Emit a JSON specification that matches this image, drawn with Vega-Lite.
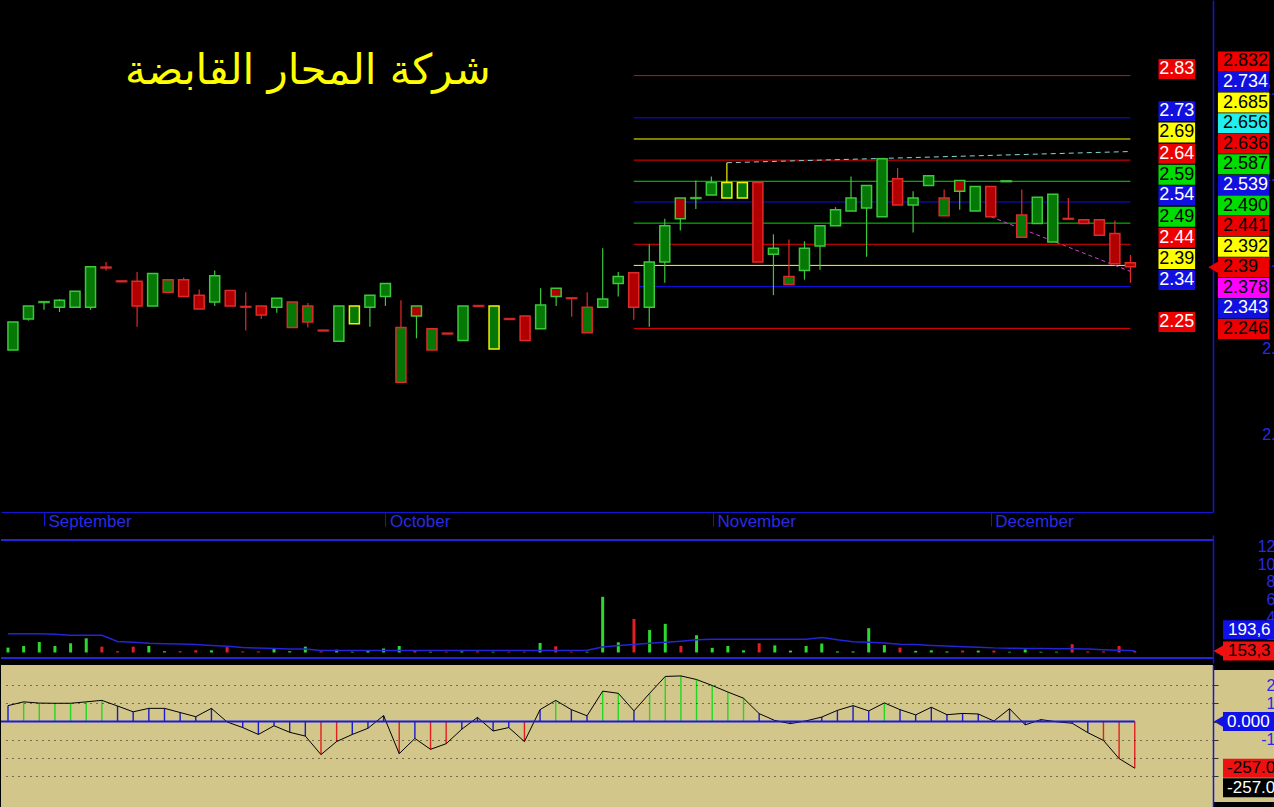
{
"$schema":"https://vega.github.io/schema/vega-lite/v6.json",
"background":"black",
"padding":0,
"spacing":2,
"config":{"view":{"stroke":null},"axis":{"labelFont":"Liberation Sans","labelFontSize":16,"labelColor":"#2a2ae6","domainColor":"#1515d5","tickColor":"#1515d5","grid":false,"labelOverlap":false}},
"datasets":{
"bars":[
{"i":1,"o":2.196,"h":2.261,"l":2.196,"c":2.261,"v":0.55,"ma":2.12,"osc":88},
{"i":2,"o":2.268,"h":2.298,"l":2.264,"c":2.298,"v":0.73,"ma":2.12,"osc":109},
{"i":3,"o":2.307,"h":2.307,"l":2.289,"c":2.307,"v":1.18,"ma":2.12,"osc":102},
{"i":4,"o":2.295,"h":2.314,"l":2.284,"c":2.311,"v":0.73,"ma":2.05,"osc":101},
{"i":5,"o":2.295,"h":2.332,"l":2.295,"c":2.332,"v":1.04,"ma":1.95,"osc":101},
{"i":6,"o":2.295,"h":2.389,"l":2.289,"c":2.389,"v":1.6,"ma":1.95,"osc":109},
{"i":7,"o":2.387,"h":2.4,"l":2.38,"c":2.387,"v":0.66,"ma":1.95,"osc":117},
{"i":8,"o":2.355,"h":2.355,"l":2.355,"c":2.355,"v":0.14,"ma":1.25,"osc":86},
{"i":9,"o":2.355,"h":2.377,"l":2.25,"c":2.298,"v":0.66,"ma":1.15,"osc":54},
{"i":10,"o":2.298,"h":2.373,"l":2.298,"c":2.373,"v":0.73,"ma":1.05,"osc":73},
{"i":11,"o":2.33,"h":2.359,"l":2.33,"c":2.359,"v":0.14,"ma":1.0,"osc":73},
{"i":12,"o":2.359,"h":2.364,"l":2.32,"c":2.32,"v":0.14,"ma":0.95,"osc":50},
{"i":13,"o":2.323,"h":2.336,"l":2.291,"c":2.291,"v":0.24,"ma":0.9,"osc":27},
{"i":14,"o":2.307,"h":2.38,"l":2.298,"c":2.368,"v":0.24,"ma":0.8,"osc":73},
{"i":15,"o":2.334,"h":2.334,"l":2.298,"c":2.298,"v":0.6,"ma":0.7,"osc":-2},
{"i":16,"o":2.296,"h":2.33,"l":2.241,"c":2.296,"v":0.12,"ma":0.55,"osc":-33},
{"i":17,"o":2.298,"h":2.298,"l":2.268,"c":2.277,"v":0.12,"ma":0.5,"osc":-71},
{"i":18,"o":2.295,"h":2.316,"l":2.282,"c":2.316,"v":0.39,"ma":0.45,"osc":-23},
{"i":19,"o":2.248,"h":2.307,"l":2.248,"c":2.307,"v":0.14,"ma":0.4,"osc":-59},
{"i":20,"o":2.261,"h":2.305,"l":2.248,"c":2.298,"v":0.66,"ma":0.38,"osc":-80},
{"i":21,"o":2.241,"h":2.241,"l":2.241,"c":2.241,"v":0.12,"ma":0.21,"osc":-182},
{"i":22,"o":2.216,"h":2.298,"l":2.216,"c":2.298,"v":0.31,"ma":0.21,"osc":-110},
{"i":23,"o":2.257,"h":2.298,"l":2.257,"c":2.298,"v":0.08,"ma":0.21,"osc":-71},
{"i":24,"o":2.295,"h":2.323,"l":2.25,"c":2.323,"v":0.21,"ma":0.21,"osc":-37},
{"i":25,"o":2.32,"h":2.35,"l":2.298,"c":2.35,"v":0.45,"ma":0.21,"osc":33},
{"i":26,"o":2.121,"h":2.311,"l":2.121,"c":2.248,"v":0.73,"ma":0.21,"osc":-177},
{"i":27,"o":2.298,"h":2.298,"l":2.223,"c":2.275,"v":0.28,"ma":0.21,"osc":-93},
{"i":28,"o":2.196,"h":2.245,"l":2.196,"c":2.245,"v":0.08,"ma":0.21,"osc":-153},
{"i":29,"o":2.234,"h":2.234,"l":2.234,"c":2.234,"v":0.08,"ma":0.21,"osc":-122},
{"i":30,"o":2.218,"h":2.298,"l":2.218,"c":2.298,"v":0.12,"ma":0.21,"osc":-42},
{"i":31,"o":2.298,"h":2.298,"l":2.298,"c":2.298,"v":0.12,"ma":0.21,"osc":23},
{"i":32,"o":2.198,"h":2.298,"l":2.198,"c":2.298,"v":0.08,"ma":0.21,"osc":-52},
{"i":33,"o":2.268,"h":2.268,"l":2.268,"c":2.268,"v":0.08,"ma":0.21,"osc":-33},
{"i":34,"o":2.275,"h":2.275,"l":2.218,"c":2.218,"v":0.08,"ma":0.21,"osc":-110},
{"i":35,"o":2.245,"h":2.339,"l":2.245,"c":2.3,"v":1.08,"ma":0.21,"osc":66},
{"i":36,"o":2.339,"h":2.339,"l":2.298,"c":2.32,"v":0.7,"ma":0.21,"osc":117},
{"i":37,"o":2.316,"h":2.316,"l":2.273,"c":2.316,"v":0.08,"ma":0.21,"osc":66},
{"i":38,"o":2.236,"h":2.33,"l":2.236,"c":2.295,"v":0.08,"ma":0.25,"osc":32},
{"i":39,"o":2.295,"h":2.432,"l":2.295,"c":2.314,"v":6.3,"ma":0.63,"osc":168},
{"i":40,"o":2.35,"h":2.377,"l":2.32,"c":2.366,"v":1.15,"ma":0.8,"osc":156},
{"i":41,"o":2.375,"h":2.375,"l":2.266,"c":2.295,"v":3.79,"ma":0.9,"osc":59},
{"i":42,"o":2.295,"h":2.441,"l":2.25,"c":2.4,"v":2.54,"ma":1.04,"osc":156},
{"i":43,"o":2.4,"h":2.5,"l":2.352,"c":2.484,"v":3.24,"ma":1.15,"osc":249},
{"i":44,"o":2.548,"h":2.548,"l":2.473,"c":2.5,"v":0.73,"ma":1.28,"osc":252},
{"i":45,"o":2.548,"h":2.589,"l":2.523,"c":2.548,"v":1.95,"ma":1.43,"osc":232},
{"i":46,"o":2.555,"h":2.598,"l":2.555,"c":2.584,"v":0.52,"ma":1.51,"osc":199},
{"i":47,"o":2.548,"h":2.63,"l":2.548,"c":2.584,"v":0.73,"ma":1.51,"osc":163},
{"i":48,"o":2.548,"h":2.584,"l":2.548,"c":2.584,"v":0.24,"ma":1.51,"osc":129},
{"i":49,"o":2.584,"h":2.584,"l":2.4,"c":2.4,"v":1.04,"ma":1.51,"osc":44},
{"i":50,"o":2.418,"h":2.464,"l":2.323,"c":2.432,"v":0.8,"ma":1.51,"osc":6},
{"i":51,"o":2.348,"h":2.452,"l":2.348,"c":2.366,"v":0.21,"ma":1.51,"osc":-11},
{"i":52,"o":2.38,"h":2.448,"l":2.359,"c":2.432,"v":0.73,"ma":1.51,"osc":4},
{"i":53,"o":2.437,"h":2.484,"l":2.382,"c":2.484,"v":1.01,"ma":1.7,"osc":25},
{"i":54,"o":2.484,"h":2.527,"l":2.484,"c":2.521,"v":0.12,"ma":1.43,"osc":62},
{"i":55,"o":2.518,"h":2.598,"l":2.518,"c":2.548,"v":0.12,"ma":1.22,"osc":88},
{"i":56,"o":2.525,"h":2.577,"l":2.412,"c":2.577,"v":2.75,"ma":1.15,"osc":59},
{"i":57,"o":2.505,"h":2.639,"l":2.505,"c":2.639,"v":0.83,"ma":1.08,"osc":103},
{"i":58,"o":2.593,"h":2.618,"l":2.532,"c":2.532,"v":0.55,"ma":0.94,"osc":66},
{"i":59,"o":2.532,"h":2.564,"l":2.468,"c":2.548,"v":0.18,"ma":0.9,"osc":37},
{"i":60,"o":2.577,"h":2.6,"l":2.577,"c":2.6,"v":0.24,"ma":0.8,"osc":79},
{"i":61,"o":2.507,"h":2.568,"l":2.507,"c":2.548,"v":0.12,"ma":0.73,"osc":38},
{"i":62,"o":2.589,"h":2.589,"l":2.521,"c":2.564,"v":0.21,"ma":0.66,"osc":45},
{"i":63,"o":2.518,"h":2.575,"l":2.518,"c":2.575,"v":0.21,"ma":0.59,"osc":42},
{"i":64,"o":2.575,"h":2.575,"l":2.505,"c":2.505,"v":0.21,"ma":0.52,"osc":3},
{"i":65,"o":2.587,"h":2.587,"l":2.587,"c":2.587,"v":0.08,"ma":0.49,"osc":71},
{"i":66,"o":2.457,"h":2.568,"l":2.457,"c":2.509,"v":0.34,"ma":0.45,"osc":-18},
{"i":67,"o":2.489,"h":2.55,"l":2.489,"c":2.55,"v":0.08,"ma":0.45,"osc":11},
{"i":68,"o":2.446,"h":2.557,"l":2.446,"c":2.557,"v":0.08,"ma":0.42,"osc":-1},
{"i":69,"o":2.5,"h":2.548,"l":2.5,"c":2.5,"v":0.94,"ma":0.42,"osc":-9},
{"i":70,"o":2.498,"h":2.498,"l":2.489,"c":2.489,"v":0.12,"ma":0.38,"osc":-61},
{"i":71,"o":2.498,"h":2.498,"l":2.462,"c":2.462,"v":0.12,"ma":0.31,"osc":-104},
{"i":72,"o":2.466,"h":2.496,"l":2.396,"c":2.396,"v":0.73,"ma":0.24,"osc":-204},
{"i":73,"o":2.398,"h":2.416,"l":2.352,"c":2.389,"v":0.153,"ma":0.194,"osc":-257}
],
"levels":[
{"lv":"2.832","p":2.832,"lbl":"2.83"},
{"lv":"2.734","p":2.734,"lbl":"2.73"},
{"lv":"2.685","p":2.685,"lbl":"2.69"},
{"lv":"2.636","p":2.636,"lbl":"2.64"},
{"lv":"2.587","p":2.587,"lbl":"2.59"},
{"lv":"2.539","p":2.539,"lbl":"2.54"},
{"lv":"2.490","p":2.49,"lbl":"2.49"},
{"lv":"2.441","p":2.441,"lbl":"2.44"},
{"lv":"2.392","p":2.392,"lbl":"2.39"},
{"lv":"2.343","p":2.343,"lbl":"2.34"},
{"lv":"2.246","p":2.246,"lbl":"2.25"}
],
"tags":[
{"txt":"2.832","slot":0},{"txt":"2.734","slot":1},{"txt":"2.685","slot":2},{"txt":"2.656","slot":3},
{"txt":"2.636","slot":4},{"txt":"2.587","slot":5},{"txt":"2.539","slot":6},{"txt":"2.490","slot":7},
{"txt":"2.441","slot":8},{"txt":"2.392","slot":9},{"txt":"2.39","slot":10},{"txt":"2.378","slot":11},
{"txt":"2.343","slot":12},{"txt":"2.246","slot":13}
],
"trends":[
{"t":"up","i":47,"p":2.63},{"t":"up","i":73,"p":2.656},
{"t":"dn","i":64,"p":2.505},{"t":"dn","i":73,"p":2.378}
],
"voltags":[{"txt":"193,6","v":0.194,"k":"ma"},{"txt":"153,3","v":0.153,"k":"vol"}],
"osctags":[{"txt":"0.000","v":0,"k":"zero"},{"txt":"-257.0","v":-257,"k":"osc"},{"txt":"-257.0","v":-257,"k":"sig"}]
},
"resolve":{"scale":{"x":"independent","y":"independent","color":"independent"}},
"vconcat":[
{
"width":1212,"height":512,
"layer":[
{"layer":[
 {"data":{"name":"levels"},"layer":[
  {"mark":{"type":"rule","strokeWidth":1},"encoding":{
   "x":{"datum":41,"type":"quantitative","scale":{"domain":[0.553,78.0],"nice":false,"zero":false}},"x2":{"datum":73},
   "y":{"field":"p","type":"quantitative","scale":{"domain":[1.832,2.9956],"nice":false,"zero":false}},
   "color":{"field":"lv","type":"nominal","legend":null,"scale":{"domain":["2.832","2.734","2.685","2.656","2.636","2.587","2.539","2.490","2.441","2.392","2.39","2.378","2.343","2.246"],"range":["#ee0000","#1010e0","#ffff00","#22eeee","#ee0000","#00dd00","#1010e0","#00dd00","#ee0000","#ffff00","#ee0000","#ff00ff","#1010e0","#ee0000"]}}}},
  {"mark":{"type":"bar","size":20,"yOffset":-6.5},"encoding":{
   "x":{"datum":74.81},"x2":{"datum":77.17},
   "y":{"field":"p","type":"quantitative"},
   "color":{"field":"lv","type":"nominal","legend":null}}},
  {"mark":{"type":"text","align":"center","baseline":"middle","font":"Liberation Sans","fontSize":18,"yOffset":-6.5},"encoding":{
   "x":{"datum":75.99},"y":{"field":"p","type":"quantitative"},"text":{"field":"lbl"},
   "color":{"condition":{"test":"indexof(['2.685','2.587','2.490','2.392'], datum.lv) >= 0","value":"#000000"},"value":"#ffffff"}}}
 ]},
 {"data":{"name":"trends"},"layer":[
  {"transform":[{"filter":"datum.t == 'up'"}],"mark":{"type":"line","color":"#86d8d8","strokeWidth":1,"strokeDash":[5,4]},"encoding":{"x":{"field":"i","type":"quantitative"},"y":{"field":"p","type":"quantitative"}}},
  {"transform":[{"filter":"datum.t == 'dn'"}],"mark":{"type":"line","color":"#d040d0","strokeWidth":1,"strokeDash":[4,3]},"encoding":{"x":{"field":"i","type":"quantitative"},"y":{"field":"p","type":"quantitative"}}}
 ]},
 {"data":{"name":"bars"},
  "transform":[{"window":[{"op":"lag","field":"c","as":"pc"}],"sort":[{"field":"i","order":"ascending"}]}],
  "encoding":{"x":{"field":"i","type":"quantitative","scale":{"domain":[0.553,78.0],"nice":false,"zero":false},
   "axis":{"title":null,"values":[3,25,46.1,64],"tickCount":50,"labelExpr":"datum.value < 10 ? 'September' : datum.value < 30 ? 'October' : datum.value < 50 ? 'November' : 'December'","labelAlign":"left","labelBaseline":"top","tickSize":14,"labelPadding":-12.5,"labelOffset":4,"labelFlush":false,"labelOverlap":false,"labelFontSize":17,"minExtent":21,"maxExtent":21}}},
  "layer":[
   {"mark":{"type":"rule","strokeWidth":1.2},"encoding":{
    "y":{"field":"l","type":"quantitative","scale":{"domain":[1.832,2.9956],"nice":false,"zero":false},
     "axis":{"title":null,"orient":"right","values":[2.0,2.2,2.4,2.6,2.8],"tickCount":50,"labelExpr":"slice(format(datum.value,'.1f'),0,2)","labelAlign":"right","labelBaseline":"middle","labelOverlap":false,"ticks":true,"tickSize":0,"labelPadding":62,"domainWidth":1.5}},
    "y2":{"field":"h"},
    "color":{"condition":[{"test":"datum.pc == null || datum.c > datum.pc","value":"#3cc83c"},{"test":"datum.c == datum.pc && datum.c != datum.o","value":"#f2f200"}],"value":"#e02a2a"}}},
   {"mark":{"type":"bar","size":10,"strokeWidth":1.5},"encoding":{
    "y":{"field":"o","type":"quantitative"},"y2":{"field":"c"},
    "fill":{"condition":[{"test":"datum.c > datum.o","value":"#067806"},{"test":"datum.c < datum.o","value":"#b00000"}],"value":"#e02a2a"},
    "stroke":{"condition":[{"test":"datum.pc == null || datum.c > datum.pc","value":"#3cc83c"},{"test":"datum.c == datum.pc && datum.c != datum.o","value":"#f2f200"}],"value":"#e02a2a"}}},
   {"transform":[{"filter":"datum.o == datum.c"}],"mark":{"type":"tick","orient":"horizontal","thickness":2.5,"size":12},"encoding":{
    "y":{"field":"c","type":"quantitative"},
    "color":{"condition":[{"test":"datum.pc == null || datum.c > datum.pc","value":"#3cc83c"},{"test":"datum.c == datum.pc && datum.c != datum.o","value":"#f2f200"}],"value":"#e02a2a"}}}
  ]},
 {"data":{"values":[{"name":"شركة المحار القابضة"}]},
  "mark":{"type":"text","font":"DejaVu Sans","fontSize":42,"color":"#ffff00","align":"center","baseline":"middle"},
  "encoding":{"x":{"datum":20.0},"y":{"datum":2.843},"text":{"field":"name"}}}
]},
{"data":{"name":"tags"},
 "encoding":{"y":{"field":"slot","type":"quantitative","scale":{"domain":[-2.738,21.64],"reverse":true,"nice":false,"zero":false},"axis":null}},
 "layer":[
  {"mark":{"type":"bar","size":20},"encoding":{"x":{"datum":78.64},"x2":{"datum":81.95},"color":{"field":"txt","type":"nominal","legend":null}}},
  {"transform":[{"filter":"datum.txt == '2.39'"}],"mark":{"type":"point","shape":"triangle-left","size":420,"filled":true,"opacity":1,"color":"#ee0000"},"encoding":{"x":{"datum":78.59}}},
  {"mark":{"type":"text","align":"left","baseline":"middle","font":"Liberation Sans","fontSize":18},"encoding":{"x":{"datum":78.96},"text":{"field":"txt"},
   "color":{"condition":{"test":"indexof(['2.734','2.539','2.343'], datum.txt) >= 0","value":"#ffffff"},"value":"#000000"}}}
 ]}
],
"resolve":{"scale":{"y":"independent"}}
},
{
"width":1212,"height":128,
"layer":[
 {"data":{"name":"bars"},"transform":[{"window":[{"op":"lag","field":"c","as":"pc"}],"sort":[{"field":"i","order":"ascending"}]}],
  "mark":{"type":"rule","strokeWidth":3},
  "encoding":{"x":{"field":"i","type":"quantitative","scale":{"domain":[0.553,78.0],"nice":false,"zero":false},"axis":null},
   "y":{"field":"v","type":"quantitative","scale":{"domain":[-0.626,12.73],"nice":false,"zero":false},
    "axis":{"title":null,"orient":"right","values":[2,4,6,8,10,12],"tickCount":50,"labelExpr":"format(datum.value,'d')","labelAlign":"right","labelBaseline":"middle","labelOverlap":false,"ticks":true,"tickSize":0,"labelPadding":62,"domainWidth":1.5}},
   "y2":{"datum":0},
   "color":{"condition":[{"test":"datum.c > datum.o","value":"#2ed82e"},{"test":"datum.c < datum.o","value":"#e02020"},{"test":"datum.pc == null || datum.c > datum.pc","value":"#2ed82e"}],"value":"#e02020"}}},
 {"data":{"name":"bars"},"mark":{"type":"line","color":"#2424d8","strokeWidth":1.5},
  "encoding":{"x":{"field":"i","type":"quantitative"},"y":{"field":"ma","type":"quantitative"}}},
 {"data":{"values":[{}]},"mark":{"type":"rule","color":"#2424d8","strokeWidth":2},"encoding":{"x":{"datum":0.553},"x2":{"datum":78.0},"y":{"datum":12.73}}},
 {"data":{"values":[{}]},"mark":{"type":"rule","color":"#2424d8","strokeWidth":2},"encoding":{"x":{"datum":0.553},"x2":{"datum":78.0},"y":{"datum":-0.626}}},
 {"data":{"name":"voltags"},"transform":[{"filter":"datum.k == 'ma'"}],"layer":[
  {"mark":{"type":"bar","size":19,"color":"#1010e8","yOffset":-21},"encoding":{"x":{"datum":78.64},"x2":{"datum":81.95},"y":{"field":"v","type":"quantitative"}}},
  {"mark":{"type":"text","align":"left","baseline":"middle","font":"Liberation Sans","fontSize":17,"color":"#ffffff","yOffset":-21},"encoding":{"x":{"datum":78.96},"y":{"field":"v","type":"quantitative"},"text":{"field":"txt"}}}
 ]},
 {"data":{"name":"voltags"},"transform":[{"filter":"datum.k == 'vol'"}],"layer":[
  {"mark":{"type":"bar","size":19,"color":"#ee1111"},"encoding":{"x":{"datum":78.64},"x2":{"datum":81.95},"y":{"field":"v","type":"quantitative"}}},
  {"mark":{"type":"point","shape":"triangle-left","size":400,"filled":true,"opacity":1,"color":"#ee1111"},"encoding":{"x":{"datum":78.59},"y":{"field":"v","type":"quantitative"}}},
  {"mark":{"type":"text","align":"left","baseline":"middle","font":"Liberation Sans","fontSize":17,"color":"#000000"},"encoding":{"x":{"datum":78.96},"y":{"field":"v","type":"quantitative"},"text":{"field":"txt"}}}
 ]}
]
},
{
"width":1212,"height":142,
"view":{"fill":"#d2c68a"},
"layer":[
 {"data":{"name":"bars"},"mark":{"type":"rule","strokeWidth":1.4},
  "encoding":{"x":{"field":"i","type":"quantitative","scale":{"domain":[0.553,78.0],"nice":false,"zero":false},"axis":null},
   "y":{"field":"osc","type":"quantitative","scale":{"domain":[-443.6,284.6],"nice":false,"zero":false},
    "axis":{"title":null,"orient":"right","values":[-300,-200,-100,0,100,200],"tickCount":50,"labelExpr":"datum.value == 200 ? '2' : datum.value == 100 ? '1' : datum.value == -100 ? '-1' : ''","labelAlign":"right","labelBaseline":"middle","labelOverlap":false,"tickSize":5,"tickColor":"#333333","labelPadding":57,"domainWidth":1.5,"zindex":1,"grid":true,"gridColor":"#000000","gridDash":[1,5],"gridOpacity":{"condition":{"test":"datum.value === 0","value":0},"value":0.9}}},
   "y2":{"datum":0},
   "color":{"condition":[{"test":"datum.osc > 100","value":"#22d822"},{"test":"datum.osc < -100","value":"#e02020"}],"value":"#1a1acc"}}},
 {"data":{"name":"bars"},"mark":{"type":"line","color":"#000000","strokeWidth":1},
  "encoding":{"x":{"field":"i","type":"quantitative"},"y":{"field":"osc","type":"quantitative"}}},
 {"data":{"values":[{}]},"mark":{"type":"rule","color":"#1a1add","strokeWidth":2},"encoding":{"x":{"datum":0.553},"x2":{"datum":73},"y":{"datum":0}}},
 {"data":{"values":[{}]},"mark":{"type":"rect","color":"#d2c68a"},"encoding":{"x":{"datum":78.0},"x2":{"datum":81.95},"y":{"datum":284.6},"y2":{"datum":-443.6}}},
 {"data":{"name":"osctags"},"transform":[{"filter":"datum.k != 'sig'"}],"layer":[
  {"mark":{"type":"bar","size":19},"encoding":{"x":{"datum":78.64},"x2":{"datum":81.95},"y":{"field":"v","type":"quantitative"},
   "color":{"field":"k","type":"nominal","legend":null,"scale":{"domain":["zero","osc","sig"],"range":["#1010e8","#ee1111","#000000"]}}}},
  {"transform":[{"filter":"datum.k == 'zero'"}],"mark":{"type":"point","shape":"triangle-left","size":380,"filled":true,"opacity":1,"color":"#1010e8"},"encoding":{"x":{"datum":78.59},"y":{"field":"v","type":"quantitative"}}},
  {"mark":{"type":"text","align":"left","baseline":"middle","font":"Liberation Sans","fontSize":17},"encoding":{"x":{"datum":78.9},"y":{"field":"v","type":"quantitative"},"text":{"field":"txt"},
   "color":{"condition":{"test":"datum.k == 'osc'","value":"#000000"},"value":"#ffffff"}}}
 ]},
 {"data":{"name":"osctags"},"transform":[{"filter":"datum.k == 'sig'"}],"layer":[
  {"mark":{"type":"bar","size":19,"color":"#000000","yOffset":19.5},"encoding":{"x":{"datum":78.64},"x2":{"datum":81.95},"y":{"field":"v","type":"quantitative"}}},
  {"mark":{"type":"text","align":"left","baseline":"middle","font":"Liberation Sans","fontSize":17,"color":"#ffffff","yOffset":19.5},"encoding":{"x":{"datum":78.9},"y":{"field":"v","type":"quantitative"},"text":{"field":"txt"}}}
 ]}
]
}
]
}
